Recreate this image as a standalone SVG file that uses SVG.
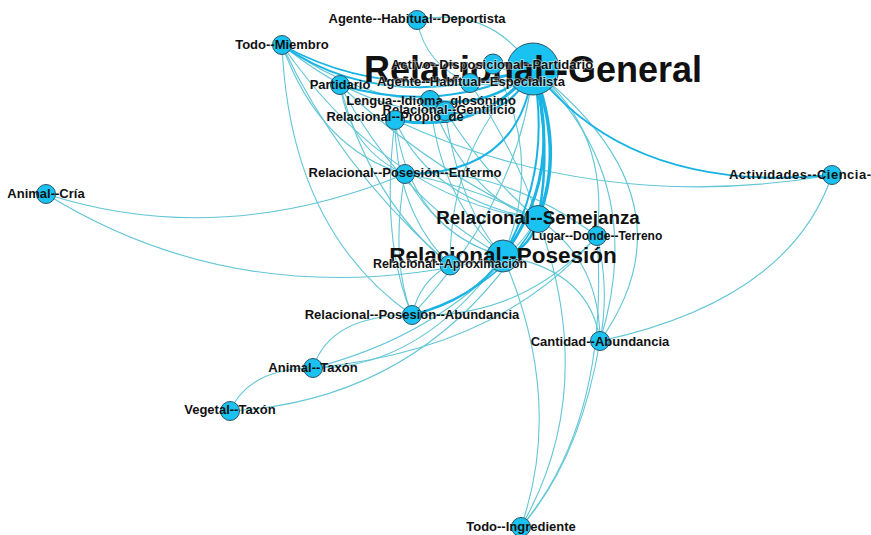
<svg xmlns="http://www.w3.org/2000/svg" width="871" height="535" viewBox="0 0 871 535">
<style>
.e{fill:none;stroke:#62c6d6;stroke-width:1.1}
.t{fill:none;stroke:#1ab4e4}
.n circle{fill:#19c2f0;stroke:#2e5566;stroke-width:1}
.n text{font-family:"Liberation Sans",Arial,sans-serif;font-weight:bold;font-size:13px;fill:#111111;text-anchor:middle}
.h{paint-order:stroke;stroke:#ffffff;stroke-opacity:0.55;stroke-width:1.6}
</style>
<rect width="871" height="535" fill="#ffffff"/>
<g id="edges">
<path class="e" d="M417,20 Q490,5 533,69"/>
<path class="e" d="M417,20 Q425,65 470,83"/>
<path class="e" d="M282,45 Q320,150 405,174"/>
<path class="e" d="M282,45 Q290,230 412,315"/>
<path class="e" d="M282,45 Q340,170 450,265"/>
<path class="e" d="M282,45 Q390,200 538,219"/>
<path class="e" d="M282,45 Q360,100 430,100"/>
<path class="e" d="M282,45 Q370,115 445,111"/>
<path class="e" d="M340,85 Q350,150 405,174"/>
<path class="e" d="M340,85 Q400,200 503,256"/>
<path class="e" d="M340,85 Q430,170 538,219"/>
<path class="e" d="M340,85 Q370,200 450,265"/>
<path class="e" d="M46,194 Q220,250 405,174"/>
<path class="e" d="M46,194 Q250,320 503,256"/>
<path class="e" d="M395,120 Q430,200 538,219"/>
<path class="e" d="M395,120 Q410,230 503,256"/>
<path class="e" d="M395,120 Q395,210 450,265"/>
<path class="e" d="M395,120 Q380,240 412,315"/>
<path class="e" d="M395,120 Q600,215 832,175"/>
<path class="e" d="M405,174 Q440,240 503,256"/>
<path class="e" d="M405,174 Q470,185 538,219"/>
<path class="e" d="M405,174 Q390,260 412,315"/>
<path class="e" d="M405,174 Q500,165 597,236"/>
<path class="e" d="M313,368 Q330,315 412,315"/>
<path class="e" d="M313,368 Q420,370 503,256"/>
<path class="e" d="M313,368 Q460,330 538,219"/>
<path class="e" d="M313,368 Q250,368 230,411"/>
<path class="e" d="M313,368 Q500,350 597,236"/>
<path class="e" d="M230,411 Q430,400 538,219"/>
<path class="e" d="M450,265 Q420,280 412,315"/>
<path class="e" d="M450,265 Q450,140 533,69"/>
<path class="e" d="M412,315 Q520,200 533,69"/>
<path class="e" d="M412,315 Q520,320 597,236"/>
<path class="e" d="M533,69 Q610,130 597,236"/>
<path class="e" d="M533,69 Q700,200 600,341"/>
<path class="e" d="M533,69 Q650,180 600,341"/>
<path class="e" d="M538,219 Q600,260 600,341"/>
<path class="e" d="M503,256 Q590,270 600,341"/>
<path class="e" d="M597,236 Q610,290 600,341"/>
<path class="e" d="M832,175 Q790,300 600,341"/>
<path class="e" d="M597,236 Q610,420 521,527"/>
<path class="e" d="M600,341 Q580,460 521,527"/>
<path class="e" d="M503,256 Q565,400 521,527"/>
<path class="e" d="M538,219 Q600,390 521,527"/>
<path class="e" d="M430,100 Q470,200 538,219"/>
<path class="e" d="M445,111 Q460,210 503,256"/>
<path class="e" d="M445,111 Q490,180 538,219"/>
<path class="e" d="M430,100 Q440,200 503,256"/>
<path class="e" d="M470,83 Q500,90 533,69"/>
<path class="e" d="M493,64 Q510,75 533,69"/>
<path class="e" d="M470,83 Q520,160 538,219"/>
<path class="e" d="M493,64 Q545,160 503,256"/>
<path class="t" stroke-width="2" d="M533,69 Q630,195 832,175"/>
<path class="t" stroke-width="3.5" d="M533,69 Q565,150 538,219"/>
<path class="t" stroke-width="2.5" d="M533,69 Q553,145 538,219"/>
<path class="t" stroke-width="3" d="M533,69 Q565,175 503,256"/>
<path class="t" stroke-width="2" d="M533,69 Q553,170 503,256"/>
<path class="t" stroke-width="2" d="M405,174 Q520,175 533,69"/>
<path class="t" stroke-width="2" d="M282,45 Q380,115 533,69"/>
<path class="t" stroke-width="1.5" d="M282,45 Q390,105 533,69"/>
<path class="t" stroke-width="2" d="M340,85 Q440,115 533,69"/>
<path class="t" stroke-width="2.5" d="M430,100 Q490,110 533,69"/>
<path class="t" stroke-width="2" d="M445,111 Q505,125 533,69"/>
<path class="t" stroke-width="3" d="M395,120 Q480,135 533,69"/>
<path class="t" stroke-width="2.5" d="M538,219 Q530,250 503,256"/>
<path class="t" stroke-width="2" d="M412,315 Q475,300 503,256"/>
<path class="t" stroke-width="1.5" d="M412,315 Q500,290 538,219"/>
</g>
<g id="n-general" class="n"><circle cx="533" cy="69" r="26"/><text x="533" y="82" style="font-size:36px">Relacional--General</text></g>
<g id="n-posesion" class="n"><circle cx="503" cy="256" r="16"/><text x="503" y="263" style="font-size:22.5px">Relacional--Posesión</text></g>
<g id="n-semejanza" class="n"><circle cx="538" cy="219" r="13.5"/><text x="538" y="224" style="font-size:18.8px">Relacional--Semejanza</text></g>
<g id="n-deportista" class="n"><circle cx="417" cy="20" r="9.5"/><text x="417" y="23">Agente--Habitual--Deportista</text></g>
<g id="n-todo-miembro" class="n"><circle cx="282" cy="45" r="9.5"/><text x="282" y="49">Todo--Miembro</text></g>
<g id="n-partidario" class="n"><circle cx="340" cy="85" r="9.5"/><text x="340" y="89">Partidario</text></g>
<g id="n-activo" class="n"><circle cx="493" cy="64" r="10"/><text class="h" x="492" y="69">Activo--Disposicional--Partidario</text></g>
<g id="n-especialista" class="n"><circle cx="470" cy="83" r="9.5"/><text class="h" x="471" y="86">Agente--Habitual--Especialista</text></g>
<g id="n-lengua" class="n"><circle cx="430" cy="100" r="9.5"/><text x="431" y="105">Lengua--Idioma_glosónimo</text></g>
<g id="n-gentilicio" class="n"><circle cx="445" cy="111" r="9.5"/><text class="h" x="449" y="114">Relacional--Gentilicio</text></g>
<g id="n-propio" class="n"><circle cx="395" cy="120" r="9.5"/><text x="395" y="121">Relacional--Propio_de</text></g>
<g id="n-enfermo" class="n"><circle cx="405" cy="174" r="9.5"/><text x="405" y="177">Relacional--Posesión--Enfermo</text></g>
<g id="n-animal-cria" class="n"><circle cx="46" cy="194" r="9.5"/><text x="46" y="198">Animal--Cría</text></g>
<g id="n-actividades" class="n"><circle cx="832" cy="175" r="9.5"/><text x="729" y="179" textLength="142" style="text-anchor:start">Actividades--Ciencia-</text></g>
<g id="n-lugar" class="n"><circle cx="597" cy="236" r="9.5"/><text x="597" y="240" style="font-size:12px">Lugar--Donde--Terreno</text></g>
<g id="n-aproximacion" class="n"><circle cx="450" cy="265" r="10"/><text class="h" x="450" y="268" style="font-size:12.5px">Relacional--Aproximación</text></g>
<g id="n-abundancia" class="n"><circle cx="412" cy="315" r="9.5"/><text x="412" y="319">Relacional--Posesión--Abundancia</text></g>
<g id="n-cantidad" class="n"><circle cx="600" cy="341" r="9.5"/><text x="600" y="346">Cantidad--Abundancia</text></g>
<g id="n-animal-taxon" class="n"><circle cx="313" cy="368" r="9.5"/><text x="313" y="372">Animal--Taxón</text></g>
<g id="n-vegetal-taxon" class="n"><circle cx="230" cy="411" r="9.5"/><text x="230" y="414">Vegetal--Taxón</text></g>
<g id="n-ingrediente" class="n"><circle cx="521" cy="527" r="9.5"/><text x="521" y="531">Todo--Ingrediente</text></g>
</svg>
